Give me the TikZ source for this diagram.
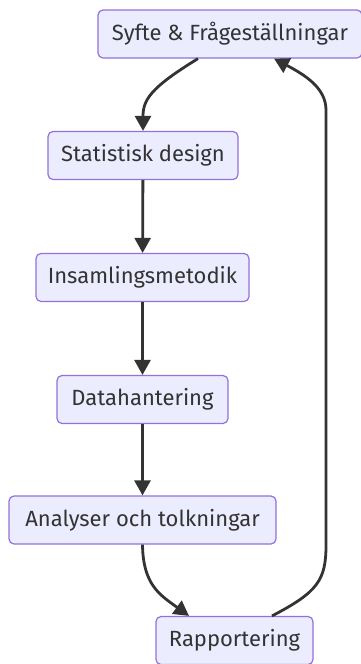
\documentclass[tikz,border=0pt]{standalone}
\usepackage{fontspec}
\setmainfont{Fira Sans}
\usetikzlibrary{arrows.meta}
\definecolor{boxfill}{HTML}{ECECFF}
\definecolor{boxline}{HTML}{9370DB}
\definecolor{ink}{HTML}{333333}
\begin{document}
\begin{tikzpicture}[x=1pt,y=-1pt,
  box/.style={draw=boxline, fill=boxfill, line width=1.2pt, rounded corners=5pt,
    text=ink, font=\fontsize{22}{26}\selectfont, minimum height=48pt, inner sep=0pt},
  flow/.style={draw=ink, line width=2.8pt, -{Triangle[length=15pt,width=16pt]}}]
\useasboundingbox (0,0) rectangle (361,664);
% steps
\node[box, minimum width=264pt] (syfte) at (230,34) {Syfte \& Frågeställningar};
\node[box, minimum width=190pt] (design) at (143,155.5) {Statistisk design};
\node[box, minimum width=213pt] (insamling) at (142.5,277.5) {Insamlingsmetodik};
\node[box, minimum width=171pt] (data) at (142.5,399.5) {Datahantering};
\node[box, minimum width=267pt] (analys) at (142.5,520) {Analyser och tolkningar};
\node[box, minimum width=157pt] (rapport) at (234.5,640.5) {Rapportering};
% connectors
\draw[flow] (syfte.south -| 198,0) .. controls (150,88) and (143,100) .. (design.north);
\draw[flow] (design) -- (insamling);
\draw[flow] (insamling) -- (data);
\draw[flow] (data) -- (analys);
\draw[flow] (analys.south) .. controls (143,585) and (160,595) .. (rapport.north -| 189,0);
\draw[flow] (rapport.north -| 272,0) .. controls (318,592) and (326,580) .. (326,545)
  -- (326,110) .. controls (326,88) and (305,75) .. (syfte.south -| 274,0);
\end{tikzpicture}
\end{document}
